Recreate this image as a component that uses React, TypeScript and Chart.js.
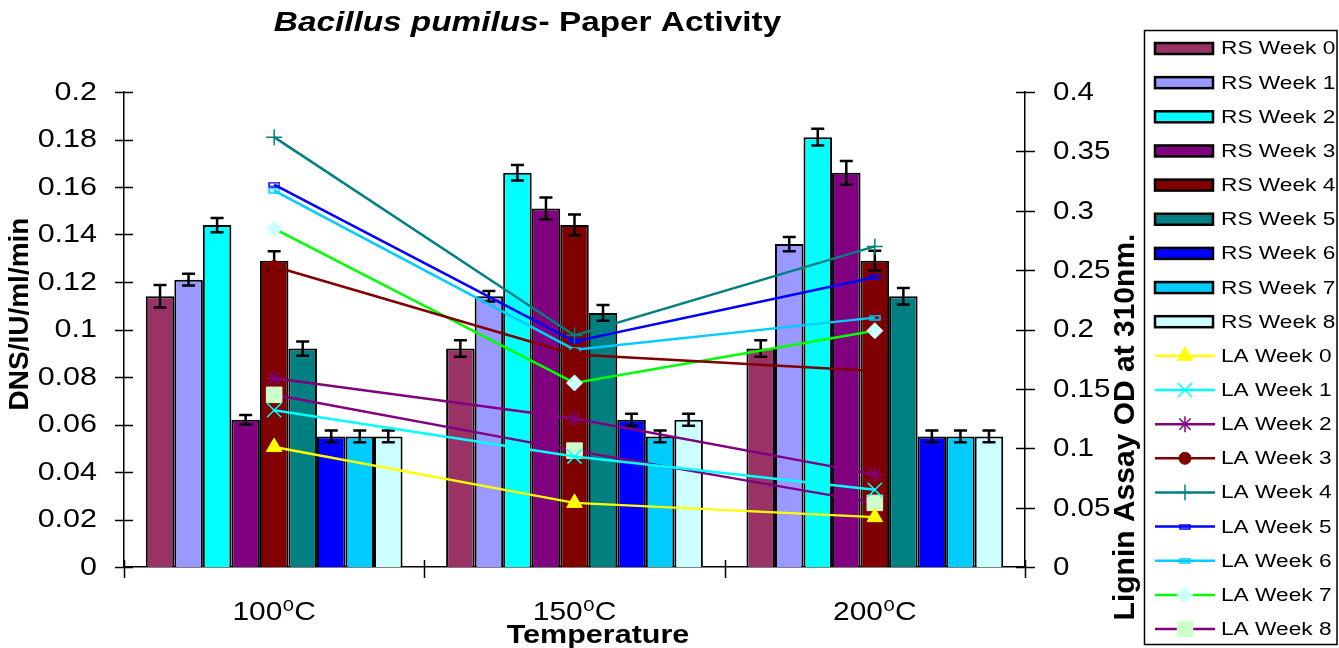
import { useEffect, useRef } from 'react';
import { Chart, registerables } from 'chart.js';
import { drawPoint } from 'chart.js/helpers';

Chart.register(...registerables);

// ---- data ----
const CATEGORIES = ['100\u2070C', '150\u2070C', '200\u2070C'];

// reducing sugar (left axis, DNS/IU/ml/min)
const RS_WEEK_0 = [0.114, 0.092, 0.092];
const RS_WEEK_1 = [0.121, 0.114, 0.136];
const RS_WEEK_2 = [0.144, 0.166, 0.181];
const RS_WEEK_3 = [0.062, 0.151, 0.166];
const RS_WEEK_4 = [0.129, 0.144, 0.129];
const RS_WEEK_5 = [0.092, 0.107, 0.114];
const RS_WEEK_6 = [0.055, 0.062, 0.055];
const RS_WEEK_7 = [0.055, 0.055, 0.055];
const RS_WEEK_8 = [0.055, 0.062, 0.055];

// error bar half-heights
const RS_ERR_0 = [0.0047, 0.0035, 0.0035];
const RS_ERR_1 = [0.0025, 0.0022, 0.003];
const RS_ERR_2 = [0.003, 0.0033, 0.0035];
const RS_ERR_3 = [0.002, 0.0046, 0.005];
const RS_ERR_4 = [0.0039, 0.0044, 0.0042];
const RS_ERR_5 = [0.003, 0.0033, 0.0035];
const RS_ERR_6 = [0.0025, 0.0025, 0.0025];
const RS_ERR_7 = [0.0025, 0.0025, 0.0025];
const RS_ERR_8 = [0.0025, 0.0025, 0.0025];

// lignin assay (right axis, OD at 310nm)
const LA_WEEK_0 = [0.101, 0.054, 0.042];
const LA_WEEK_1 = [0.132, 0.093, 0.065];
const LA_WEEK_2 = [0.159, 0.125, 0.078];
const LA_WEEK_3 = [0.253, 0.179, 0.165];
const LA_WEEK_4 = [0.362, 0.195, 0.27];
const LA_WEEK_5 = [0.322, 0.19, 0.244];
const LA_WEEK_6 = [0.317, 0.183, 0.21];
const LA_WEEK_7 = [0.285, 0.155, 0.199];
const LA_WEEK_8 = [0.145, 0.098, 0.054];

const LEFT_TICKS = [0, 0.02, 0.04, 0.06, 0.08, 0.1, 0.12, 0.14, 0.16, 0.18, 0.2];
const LEFT_TICK_LABELS = ['0', '0.02', '0.04', '0.06', '0.08', '0.1', '0.12', '0.14', '0.16', '0.18', '0.2'];
const RIGHT_TICKS = [0, 0.05, 0.1, 0.15, 0.2, 0.25, 0.3, 0.35, 0.4];
const RIGHT_TICK_LABELS = ['0', '0.05', '0.1', '0.15', '0.2', '0.25', '0.3', '0.35', '0.4'];

const TITLE_ITALIC = 'Bacillus pumilus';
const TITLE_REST = '- Paper Activity';
const X_TITLE = 'Temperature';
const Y_TITLE = 'DNS/IU/ml/min';
const Y1_TITLE = 'Lignin Assay OD at 310nm.';

const RS_LABELS = ['RS Week 0', 'RS Week 1', 'RS Week 2', 'RS Week 3', 'RS Week 4', 'RS Week 5', 'RS Week 6', 'RS Week 7', 'RS Week 8'];
const RS_VALUES = [RS_WEEK_0, RS_WEEK_1, RS_WEEK_2, RS_WEEK_3, RS_WEEK_4, RS_WEEK_5, RS_WEEK_6, RS_WEEK_7, RS_WEEK_8];
const RS_ERRORS = [RS_ERR_0, RS_ERR_1, RS_ERR_2, RS_ERR_3, RS_ERR_4, RS_ERR_5, RS_ERR_6, RS_ERR_7, RS_ERR_8];
const RS_COLORS = ['#993366', '#9999FF', '#00FFFF', '#800080', '#800000', '#008080', '#0000FF', '#00CCFF', '#CCFFFF'];

const LA_LABELS = ['LA Week 0', 'LA Week 1', 'LA Week 2', 'LA Week 3', 'LA Week 4', 'LA Week 5', 'LA Week 6', 'LA Week 7', 'LA Week 8'];
const LA_VALUES = [LA_WEEK_0, LA_WEEK_1, LA_WEEK_2, LA_WEEK_3, LA_WEEK_4, LA_WEEK_5, LA_WEEK_6, LA_WEEK_7, LA_WEEK_8];
const LA_LINE_COLORS = ['#FFFF00', '#00FFFF', '#800080', '#800000', '#008080', '#0000FF', '#00CCFF', '#00FF00', '#800080'];
const LA_MARKER_COLORS = ['#FFFF00', '#00FFFF', '#800080', '#800000', '#008080', '#0000FF', '#00CCFF', '#CCFFFF', '#CCFFCC'];

const W = 1339;
const H = 648;
const FONT = "'Liberation Sans', Arial, 'DejaVu Sans', sans-serif";

// small hollow dash used as a point marker
function makeDashMarker(color: string): HTMLCanvasElement {
  const c = document.createElement('canvas');
  c.width = 12;
  c.height = 6;
  const g = c.getContext('2d')!;
  g.strokeStyle = color;
  g.lineWidth = 1.5;
  g.strokeRect(1, 1, 10, 4);
  return c;
}

function drawText(
  ctx: CanvasRenderingContext2D,
  text: string,
  x: number,
  y: number,
  font: string,
  align: 'left' | 'right' | 'center',
  sx: number,
  baseline: CanvasTextBaseline = 'alphabetic'
) {
  ctx.save();
  ctx.font = font;
  ctx.fillStyle = '#000';
  ctx.textBaseline = baseline;
  ctx.textAlign = 'left';
  const w = ctx.measureText(text).width * sx;
  const left = align === 'left' ? x : align === 'right' ? x - w : x - w / 2;
  ctx.translate(left, y);
  ctx.scale(sx, 1);
  ctx.fillText(text, 0, 0);
  ctx.restore();
}

const errorBarPlugin = {
  id: 'errorBars',
  afterDatasetDraw(chart: any, args: any) {
    const ds = chart.data.datasets[args.index];
    if (!ds.errors) return;
    const yScale = chart.scales.y;
    const ctx = chart.ctx;
    ctx.save();
    ctx.strokeStyle = '#000';
    ctx.lineWidth = 2.5;
    args.meta.data.forEach((el: any, i: number) => {
      const v = ds.data[i];
      const e = ds.errors[i];
      const top = yScale.getPixelForValue(v + e);
      const bot = yScale.getPixelForValue(v - e);
      ctx.beginPath();
      ctx.moveTo(el.x, top);
      ctx.lineTo(el.x, bot);
      ctx.moveTo(el.x - 6.5, top);
      ctx.lineTo(el.x + 6.5, top);
      ctx.moveTo(el.x - 6.5, bot);
      ctx.lineTo(el.x + 6.5, bot);
      ctx.stroke();
    });
    ctx.restore();
  },
};

const decorPlugin = {
  id: 'decor',
  afterDraw(chart: any) {
    const ctx: CanvasRenderingContext2D = chart.ctx;
    const { left, right, bottom } = chart.chartArea;
    const xs = chart.scales.x;
    const ys = chart.scales.y;
    const y1s = chart.scales.y1;

    // title: italic species name followed by plain text
    ctx.save();
    const tSx = 1.19;
    const fItalic = `italic bold 28px ${FONT}`;
    const fBold = `bold 28px ${FONT}`;
    ctx.font = fItalic;
    const w1 = ctx.measureText(TITLE_ITALIC).width * tSx;
    ctx.font = fBold;
    const w2 = ctx.measureText(TITLE_REST).width * tSx;
    const tx = 527.5 - (w1 + w2) / 2;
    drawText(ctx, TITLE_ITALIC, tx, 31, fItalic, 'left', tSx);
    drawText(ctx, TITLE_REST, tx + w1, 31, fBold, 'left', tSx);
    ctx.restore();

    // axis tick marks (crossing the axis lines)
    ctx.save();
    ctx.strokeStyle = '#000';
    ctx.lineWidth = 1.5;
    ctx.beginPath();
    LEFT_TICKS.forEach((v) => {
      const y = Math.round(ys.getPixelForValue(v)) + 0.5;
      ctx.moveTo(left - 9, y);
      ctx.lineTo(left + 9, y);
    });
    RIGHT_TICKS.forEach((v) => {
      const y = Math.round(y1s.getPixelForValue(v)) + 0.5;
      ctx.moveTo(right - 9, y);
      ctx.lineTo(right + 10, y);
    });
    for (let i = 0; i <= CATEGORIES.length; i++) {
      const x = Math.round(xs.getPixelForValue(i - 0.5)) + 0.5;
      ctx.moveTo(x, bottom - 7);
      ctx.lineTo(x, bottom + 11);
    }
    ctx.stroke();
    ctx.restore();

    // tick labels
    const tickFont = `25px ${FONT}`;
    LEFT_TICKS.forEach((v, i) => {
      drawText(ctx, LEFT_TICK_LABELS[i], 97, ys.getPixelForValue(v) + 1, tickFont, 'right', 1.22, 'middle');
    });
    RIGHT_TICKS.forEach((v, i) => {
      drawText(ctx, RIGHT_TICK_LABELS[i], 1053, y1s.getPixelForValue(v) + 1, tickFont, 'left', 1.18, 'middle');
    });
    CATEGORIES.forEach((c, i) => {
      drawText(ctx, c, xs.getPixelForValue(i), 620, `26px ${FONT}`, 'center', 1.15);
    });

    // axis titles
    drawText(ctx, X_TITLE, 598, 643, `bold 25px ${FONT}`, 'center', 1.22);

    ctx.save();
    ctx.translate(20, 314);
    ctx.rotate(-Math.PI / 2);
    drawText(ctx, Y_TITLE, 0, 0, `bold 28px ${FONT}`, 'center', 1, 'middle');
    ctx.restore();

    ctx.save();
    ctx.translate(1126, 427);
    ctx.rotate(-Math.PI / 2);
    drawText(ctx, Y1_TITLE, 0, 0, `bold 30px ${FONT}`, 'center', 1, 'middle');
    ctx.restore();

    // legend
    ctx.save();
    ctx.strokeStyle = '#000';
    ctx.lineWidth = 1.5;
    ctx.strokeRect(1144.5, 30.5, 192.5, 614);
    ctx.restore();

    const datasets = chart.data.datasets;
    datasets.forEach((ds: any, k: number) => {
      const y = 48.5 + k * 34.15;
      ctx.save();
      if (ds.type === 'line') {
        ctx.strokeStyle = ds.borderColor;
        ctx.lineWidth = 2.5;
        ctx.beginPath();
        ctx.moveTo(1155, y);
        ctx.lineTo(1215, y);
        ctx.stroke();
        ctx.fillStyle = ds.pointBackgroundColor;
        ctx.strokeStyle = ds.pointBorderColor;
        ctx.lineWidth = ds.pointBorderWidth;
        drawPoint(ctx, { pointStyle: ds.pointStyle, radius: ds.pointRadius, rotation: 0, borderWidth: ds.pointBorderWidth } as any, 1185, y);
      } else {
        ctx.fillStyle = ds.backgroundColor;
        ctx.fillRect(1155, y - 5.5, 58, 11);
        ctx.strokeStyle = '#000';
        ctx.lineWidth = 2.5;
        ctx.strokeRect(1155, y - 5.5, 58, 11);
      }
      ctx.restore();
      drawText(ctx, ds.label, 1221, y + 1, `18px ${FONT}`, 'left', 1.26, 'middle');
    });
  },
};

export default function App() {
  const canvasRef = useRef<HTMLCanvasElement | null>(null);

  useEffect(() => {
    document.body.style.margin = '0';
    document.body.style.overflow = 'hidden';
    const canvas = canvasRef.current;
    if (!canvas) return;

    const markerStyles: any[] = [
      'triangle',
      'crossRot',
      'star',
      'circle',
      'cross',
      makeDashMarker('#0000FF'),
      makeDashMarker('#00CCFF'),
      'rectRot',
      'rect',
    ];
    const markerRadii = [9, 10, 8, 6, 8, 6, 6, 8, 11];
    const markerBorders = [1, 1.5, 1.5, 1, 1.5, 1, 1, 1, 1];

    const barSets = RS_VALUES.map((vals, i) => ({
      type: 'bar' as const,
      label: RS_LABELS[i],
      data: vals,
      errors: RS_ERRORS[i],
      backgroundColor: RS_COLORS[i],
      borderColor: '#000',
      borderWidth: 2,
      categoryPercentage: 0.855,
      barPercentage: 1.0,
      yAxisID: 'y',
      order: 1,
    }));

    const lineSets = LA_VALUES.map((vals, i) => ({
      type: 'line' as const,
      label: LA_LABELS[i],
      data: vals,
      yAxisID: 'y1',
      borderColor: LA_LINE_COLORS[i],
      backgroundColor: LA_MARKER_COLORS[i],
      borderWidth: 2.5,
      pointStyle: markerStyles[i],
      pointRadius: markerRadii[i],
      pointBackgroundColor: LA_MARKER_COLORS[i],
      pointBorderColor: LA_MARKER_COLORS[i],
      pointBorderWidth: markerBorders[i],
      fill: false,
      tension: 0,
      order: 0,
    }));

    const chart = new Chart(canvas, {
      type: 'bar',
      data: {
        labels: CATEGORIES,
        datasets: [...barSets, ...lineSets] as any,
      },
      options: {
        responsive: false,
        animation: false,
        devicePixelRatio: 1,
        layout: { padding: { top: 92, left: 0, right: 0, bottom: 0 } },
        plugins: {
          legend: { display: false },
          title: { display: false },
          tooltip: { enabled: false },
        },
        scales: {
          x: {
            type: 'category',
            offset: true,
            grid: { display: false },
            border: { display: true, color: '#000', width: 1.5 },
            ticks: { display: false },
            afterFit: (s: any) => {
              s.height = H - 567;
            },
          },
          y: {
            position: 'left',
            min: 0,
            max: 0.2,
            grid: { display: false },
            border: { display: true, color: '#000', width: 1.5 },
            ticks: { display: false },
            afterFit: (s: any) => {
              s.width = 124;
            },
          },
          y1: {
            position: 'right',
            min: 0,
            max: 0.4,
            grid: { display: false },
            border: { display: true, color: '#000', width: 1.5 },
            ticks: { display: false },
            afterFit: (s: any) => {
              s.width = W - 1025;
            },
          },
        },
      } as any,
      plugins: [errorBarPlugin, decorPlugin],
    });

    return () => chart.destroy();
  }, []);

  return (
    <div style={{ width: W, height: H, background: '#fff' }}>
      <canvas ref={canvasRef} width={W} height={H} style={{ display: 'block' }} />
    </div>
  );
}
